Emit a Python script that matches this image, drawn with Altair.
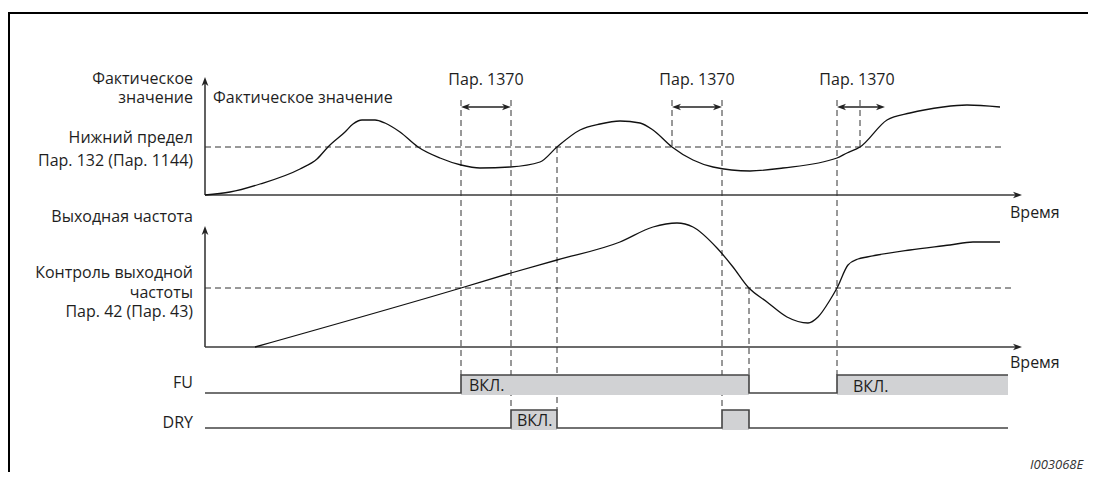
import altair as alt
import pandas as pd

# ---------------- data ----------------
# time in diagram units measured from the axes origin
actual_t = [0, 25, 55, 95, 112, 123, 140, 148, 157, 170, 180, 195, 213, 235, 256, 275, 305, 335,
            352, 375, 395, 415, 435, 448, 467, 488, 508, 545, 578, 632, 642, 655, 682, 705, 738, 762, 795]
actual_v = [0, 3, 11, 26, 36, 48, 63, 71, 75, 75, 72, 63, 48, 37, 30, 27, 28, 33,
            48, 65, 71, 74, 72, 65, 48, 35, 28, 24, 27, 37, 42, 48, 75, 82, 88, 90, 88]
lower_limit = 48

freq_t = [50, 256, 306, 352, 415, 448, 472, 488, 512, 528, 543, 562, 582, 603, 613, 625,
          632, 643, 653, 662, 705, 745, 768, 795]
freq_v = [0, 59, 74, 87, 105, 120, 124, 120, 99, 80, 60, 45, 30, 24, 30, 47,
          59, 82, 88, 90, 97, 102, 105, 105]
freq_limit = 59

fu_t = [0, 256, 544, 632, 803]
fu_on = [0, 1, 0, 1]
dry_t = [0, 306, 352, 517, 544, 803]
dry_on = [0, 1, 0, 1, 0]

par1370_windows = [(256, 306), (467, 517), (632, 680)]
par1370_mark = 655

# ---------------- layout (pixels) ----------------
X0 = 205            # pixel x of time origin
Y_TOP = 195         # baseline of actual value panel
Y_LOW = 347         # baseline of output frequency panel
Y_FU = 393
Y_DRY = 428
SIG_H = 18
T_END = 817         # time axis arrow tip
ARROW_Y = 107
GUIDE_TOP = 100
W, H = 1080, 464

INK = "#1e1e1e"
AXC = "#3a3a3a"
FONT = "Open Sans"
FS = 16

xs = alt.Scale(domain=[8 - X0, 8 + W - X0], range=[0, W])
ys = alt.Scale(domain=[8, 8 + H], reverse=True)


def X(f="t"):
    return alt.X(f + ":Q", scale=xs, axis=None)


def Y(f="py"):
    return alt.Y(f + ":Q", scale=ys, axis=None)


def segs(rows):
    # rows: (t1, y1, t2, y2)
    return pd.DataFrame(rows, columns=["t", "py", "t2", "py2"])


def rule_layer(df, color, width, dash=None):
    kw = dict(color=color, strokeWidth=width)
    if dash:
        kw["strokeDash"] = dash
    return alt.Chart(df).mark_rule(**kw).encode(
        x=X("t"), y=Y("py"), x2="t2:Q", y2="py2:Q")


def rect_layer(df, color):
    return alt.Chart(df).mark_rect(color=color, strokeWidth=0).encode(
        x=X("t"), y=Y("py"), x2="t2:Q", y2="py2:Q")


layers = []

# frame (top and left edges) as thin bands
frame = segs([(8 - X0, 12, 1088 - X0, 14), (8 - X0, 12, 10 - X0, 8 + H)])
layers.append(rect_layer(frame, "#000"))

# axes
axes = segs([
    (0, Y_TOP, 0, 82), (0, Y_TOP, T_END - 5, Y_TOP),
    (0, Y_LOW, 0, 231), (0, Y_LOW, T_END - 5, Y_LOW),
])
layers.append(rule_layer(axes, AXC, 1.6))

ARROW = "M0,-1L0.75,1L0,0.45L-0.75,1Z"
heads = pd.DataFrame([
    (0, 77 + 4.5, 0), (0, 226 + 4.5, 0),
    (T_END - 4.5, Y_TOP, 90), (T_END - 4.5, Y_LOW, 90),
] + [(a + 4.5, ARROW_Y, 270) for a, b in par1370_windows]
  + [(b - 4.5, ARROW_Y, 90) for a, b in par1370_windows],
    columns=["t", "py", "ang"])
layers.append(alt.Chart(heads).mark_point(shape=ARROW, filled=True, size=80, opacity=1,
                                          color="#222", strokeWidth=0).encode(
    x=X("t"), y=Y("py"), angle=alt.Angle("ang:Q", scale=None)))

# double arrows shafts
shafts = segs([(a + 3, ARROW_Y, b - 3, ARROW_Y) for a, b in par1370_windows])
layers.append(rule_layer(shafts, "#222", 1.3))

# threshold dashed lines
thr = segs([(0, Y_TOP - lower_limit, 797, Y_TOP - lower_limit),
            (0, Y_LOW - freq_limit, 808, Y_LOW - freq_limit)])
layers.append(rule_layer(thr, "#333", 1, [6, 4]))

# vertical guide lines
guides = segs([
    (256, GUIDE_TOP, 256, Y_FU - SIG_H),
    (306, GUIDE_TOP, 306, Y_DRY - SIG_H),
    (352, Y_TOP - lower_limit, 352, Y_DRY - SIG_H),
    (467, GUIDE_TOP, 467, Y_TOP - lower_limit),
    (517, GUIDE_TOP, 517, Y_DRY - SIG_H),
    (544, Y_LOW - freq_limit, 544, Y_FU - SIG_H),
    (632, GUIDE_TOP, 632, Y_FU - SIG_H),
    (par1370_mark, GUIDE_TOP, par1370_mark, Y_TOP - lower_limit),
])
layers.append(rule_layer(guides, "#333", 1, [6, 4]))

# signal fills
fills = []
for edges, states, base in ((fu_t, fu_on, Y_FU), (dry_t, dry_on, Y_DRY)):
    for i, s in enumerate(states):
        if s:
            fills.append((edges[i], base + 2, edges[i + 1], base - SIG_H))
layers.append(rect_layer(segs(fills), "#d1d2d4"))

# curves
cur = pd.DataFrame({"t": actual_t, "py": [Y_TOP - v for v in actual_v], "o": range(len(actual_t))})
layers.append(alt.Chart(cur).mark_line(color="#111", strokeWidth=1.3, interpolate="monotone").encode(
    x=X("t"), y=Y("py"), order="o:Q"))
fr = pd.DataFrame({"t": freq_t, "py": [Y_LOW - v for v in freq_v], "o": range(len(freq_t))})
layers.append(alt.Chart(fr).mark_line(color="#111", strokeWidth=1.3, interpolate="monotone").encode(
    x=X("t"), y=Y("py"), order="o:Q"))

# signal step lines
rows = []
for name, edges, states, base in (("FU", fu_t, fu_on, Y_FU), ("DRY", dry_t, dry_on, Y_DRY)):
    k = 0
    for i, s in enumerate(states):
        lvl = base - SIG_H * s
        rows.append((name, edges[i], lvl, k)); k += 1
        rows.append((name, edges[i + 1], lvl, k)); k += 1
sig = pd.DataFrame(rows, columns=["sig", "t", "py", "o"])
layers.append(alt.Chart(sig).mark_line(color="#444", strokeWidth=1.6).encode(
    x=X("t"), y=Y("py"), detail="sig:N", order="o:Q"))

# texts
R = 193 - X0
texts = pd.DataFrame([
    ("Фактическое", R, 79, "right"),
    ("значение", R, 98, "right"),
    ("Фактическое значение", 213 - X0, 98, "left"),
    ("Нижний предел", R, 138, "right"),
    ("Пар. 132 (Пар. 1144)", R, 161, "right"),
    ("Выходная частота", R, 217, "right"),
    ("Контроль выходной", R, 273, "right"),
    ("частоты", R, 293, "right"),
    ("Пар. 42 (Пар. 43)", R, 312, "right"),
    ("FU", R, 383, "right"),
    ("DRY", R, 423, "right"),
    ("Время", 1010 - X0, 213, "left"),
    ("Время", 1010 - X0, 363, "left"),
    ("ВКЛ.", 469 - X0, 386, "left"),
    ("ВКЛ.", 517 - X0, 421, "left"),
    ("ВКЛ.", 853 - X0, 387, "left"),
] + [("Пар. 1370", (a + b) / 2 if b - a == 50 else a + 20, 80, "center") for a, b in par1370_windows],
    columns=["txt", "t", "py", "al"])
for al in ("left", "right", "center"):
    d = texts[texts.al == al]
    layers.append(alt.Chart(d).mark_text(align=al, baseline="middle", font=FONT, fontSize=FS,
                                         color=INK).encode(x=X("t"), y=Y("py"), text="txt:N"))

wm = pd.DataFrame({"txt": ["I003068E"], "t": [1030 - X0], "py": [465]})
layers.append(alt.Chart(wm).mark_text(align="left", baseline="middle", font=FONT, fontSize=13,
                                      fontStyle="italic", color="#333").encode(
    x=X("t"), y=Y("py"), text="txt:N"))

chart = alt.layer(*layers).properties(
    width=W, height=H, autosize=alt.AutoSizeParams(type="none"), padding=0
).configure_view(strokeWidth=0, stroke="transparent")

chart.save("out.html", embed_options={"renderer": "svg", "actions": False})
